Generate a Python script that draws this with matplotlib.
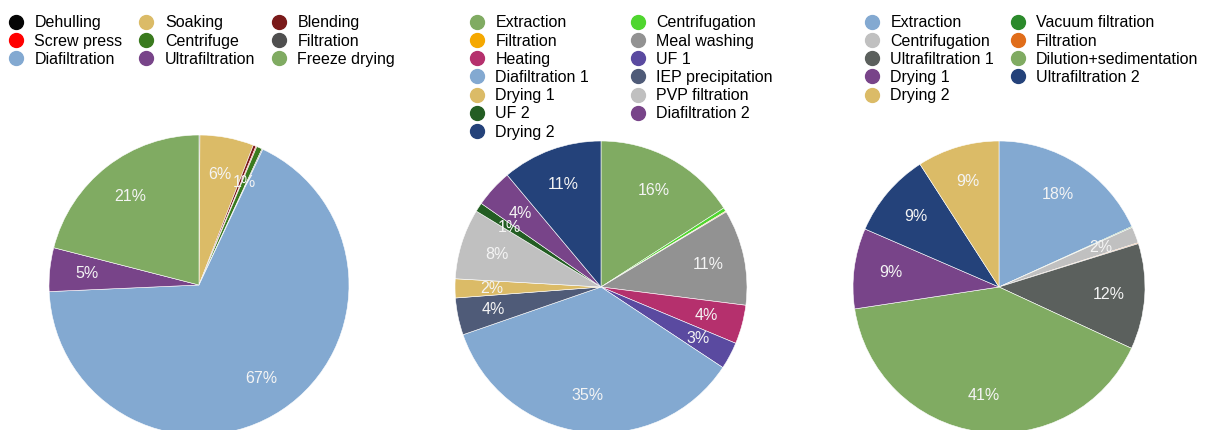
import matplotlib.pyplot as plt
from matplotlib.lines import Line2D

plt.rcParams['font.family'] = ['Liberation Sans', 'DejaVu Sans']

# Proceso 1
pasos_1 = ['Dehulling', 'Soaking', 'Blending', 'Screw press', 'Centrifuge',
           'Filtration', 'Diafiltration', 'Ultrafiltration', 'Freeze drying']
valores_1 = [0.1, 5.8, 0.3, 0.1, 0.6, 0.1, 67.3, 4.7, 21.0]
colores_1 = ['#050505', '#dbbb67', '#7a1a1a', '#ff0000', '#3a7a1e',
             '#4f4f4f', '#83a9d1', '#784489', '#80ab62']

# Proceso 2
pasos_2 = ['Extraction', 'Centrifugation', 'Filtration', 'Meal washing', 'Heating',
           'UF 1', 'Diafiltration 1', 'IEP precipitation', 'Drying 1',
           'PVP filtration', 'UF 2', 'Diafiltration 2', 'Drying 2']
valores_2 = [15.9, 0.4, 0.1, 10.6, 4.3, 3.0, 35.4, 4.1, 2.1, 7.8, 1.0, 4.2, 11.1]
colores_2 = ['#80ab62', '#4fd62e', '#f5a800', '#929292', '#b5306d', '#5a4aa0',
             '#83a9d1', '#4f5b78', '#dbbb67', '#c0c0c0', '#235d23', '#784489', '#24427a']

# Proceso 3
pasos_3 = ['Extraction', 'Vacuum filtration', 'Centrifugation', 'Filtration',
           'Ultrafiltration 1', 'Dilution+sedimentation', 'Drying 1',
           'Ultrafiltration 2', 'Drying 2']
valores_3 = [18.2, 0.1, 1.8, 0.1, 11.7, 40.7, 8.9, 9.4, 9.1]
colores_3 = ['#83a9d1', '#2b8a2b', '#c0c0c0', '#e06d1a', '#5b605d',
             '#80ab62', '#784489', '#24427a', '#dbbb67']

W, H = 1211, 430
fig = plt.figure(figsize=(W / 100, H / 100), dpi=100)


def etiqueta(p):
    return f'{p:.0f}%' if p >= 0.5 else ''


def orden_filas(items, ncol):
    # la leyenda de matplotlib llena por columnas; reordenamos para leer por filas
    n = len(items)
    nfilas = -(-n // ncol)
    return [items[r * ncol + c] for c in range(ncol) for r in range(nfilas) if r * ncol + c < n]


def pastel(cx, cy, r, valores, colores, pasos, ncol, x_leyenda, espacio_col):
    ax = fig.add_axes([(cx - r) / W, (H - cy - r) / H, 2 * r / W, 2 * r / H])
    _, _, textos = ax.pie(valores, colors=colores, startangle=90, counterclock=False,
                          autopct=etiqueta, pctdistance=0.75,
                          wedgeprops=dict(edgecolor='white', linewidth=0.4))
    for t in textos:
        t.set_color('#f4f4f4')
        t.set_fontsize(11.5)
    ax.set_xlim(-1, 1)
    ax.set_ylim(-1, 1)
    ax.axis('off')

    marcas = [Line2D([], [], marker='o', linestyle='none', markersize=10,
                     markerfacecolor=c, markeredgecolor=c) for c in colores]
    fig.legend(orden_filas(marcas, ncol), orden_filas(pasos, ncol), ncol=ncol,
               loc='upper left', bbox_to_anchor=(x_leyenda / W, 1 - 1 / H),
               bbox_transform=fig.transFigure, frameon=False, fontsize=11.5,
               handlelength=1.2, handletextpad=0.55, labelspacing=0.2,
               columnspacing=espacio_col, borderpad=0.4)


pastel(199, 285, 150, valores_1, colores_1, pasos_1, 3, -8, 0.9)
pastel(601, 287, 146, valores_2, colores_2, pasos_2, 2, 453, 2.45)
pastel(999, 287, 146, valores_3, colores_3, pasos_3, 2, 848, 0.87)

fig.savefig('out.png', dpi=100)
